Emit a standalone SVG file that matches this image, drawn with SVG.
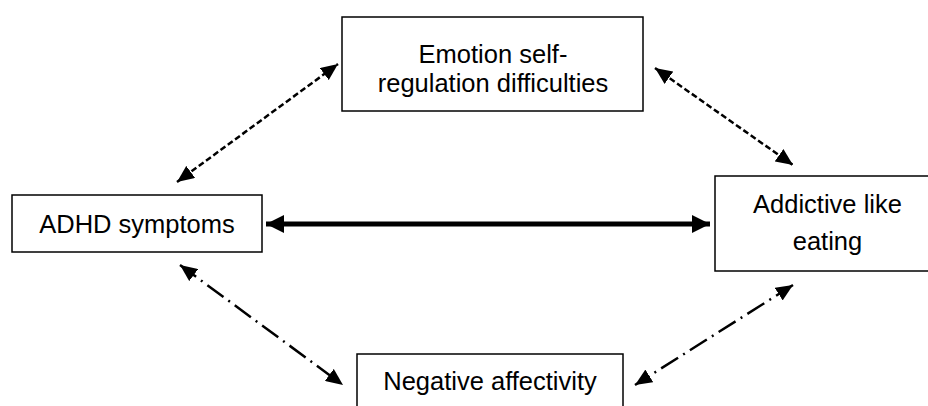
<svg xmlns="http://www.w3.org/2000/svg" width="928" height="406" viewBox="0 0 928 406">
<defs>
<style>
.box{fill:#fff;stroke:#000;stroke-width:1.5}
.lbl{font-family:"Liberation Sans",Arial,sans-serif;font-size:25.5px;fill:#000;text-anchor:middle}
.dash{fill:none;stroke:#000;stroke-width:2.5;stroke-dasharray:6 3}
.dashdot{fill:none;stroke:#000;stroke-width:2.5;stroke-dasharray:20 6 2 6}
.thick{fill:none;stroke:#000;stroke-width:5}
</style>
<marker id="ah" markerUnits="userSpaceOnUse" viewBox="0 0 17 15" refX="17" refY="7.5" markerWidth="17" markerHeight="15" orient="auto-start-reverse">
<path d="M0,0 L17,7.5 L0,15 Z" fill="#000"/>
</marker>
<marker id="ahb" markerUnits="userSpaceOnUse" viewBox="0 0 18 18" refX="18" refY="9" markerWidth="18" markerHeight="18" orient="auto-start-reverse">
<path d="M0,0 L18,9 L0,18 Z" fill="#000"/>
</marker>
</defs>
<g id="connectors">
<line class="dash" x1="177" y1="182" x2="338" y2="64" marker-start="url(#ah)" marker-end="url(#ah)"/>
<line class="dash" x1="655" y1="68" x2="793" y2="165" marker-start="url(#ah)" marker-end="url(#ah)"/>
<line class="thick" x1="266" y1="224" x2="710" y2="224" marker-start="url(#ahb)" marker-end="url(#ahb)"/>
<line class="dashdot" x1="180" y1="265" x2="343" y2="385" marker-start="url(#ah)" marker-end="url(#ah)"/>
<line class="dashdot" x1="793" y1="285" x2="635" y2="385" marker-start="url(#ah)" marker-end="url(#ah)"/>
</g>
<g id="emotion">
<rect class="box" x="342" y="17" width="301" height="94"/>
<text class="lbl" x="493" y="63">Emotion self-</text>
<text class="lbl" x="493" y="92">regulation difficulties</text>
</g>
<g id="adhd">
<rect class="box" x="12" y="195" width="250" height="57"/>
<text class="lbl" x="137" y="233">ADHD symptoms</text>
</g>
<g id="addictive">
<rect class="box" x="715" y="176" width="225" height="95"/>
<text class="lbl" x="827.5" y="213">Addictive like</text>
<text class="lbl" x="827.5" y="250">eating</text>
</g>
<g id="negative">
<rect class="box" x="357" y="354" width="266" height="60"/>
<text class="lbl" x="490" y="390">Negative affectivity</text>
</g>
</svg>
